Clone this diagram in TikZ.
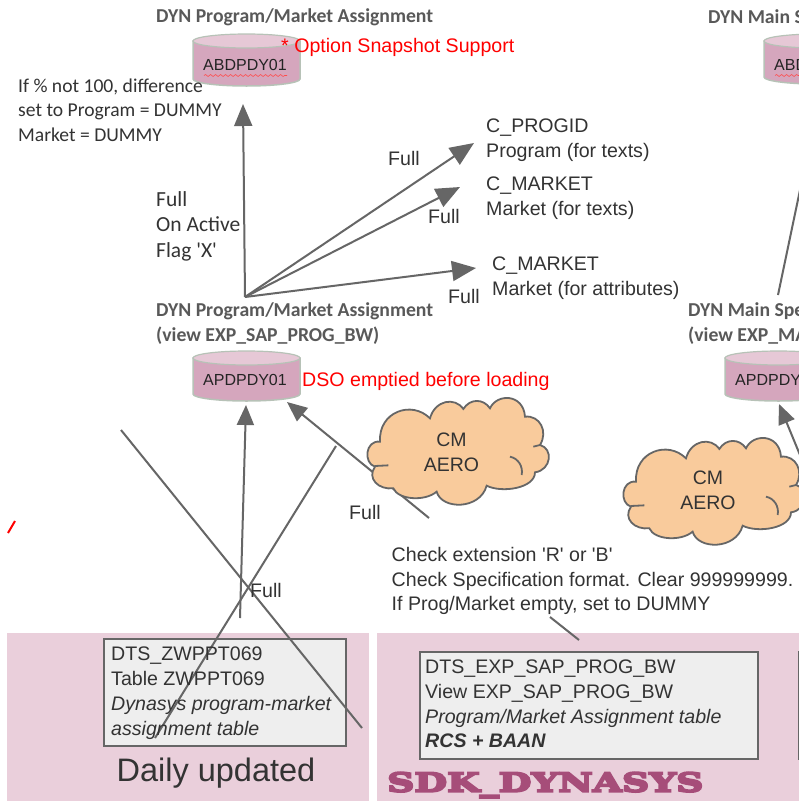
\documentclass[tikz,border=0pt]{standalone}
\usepackage{fontspec}
\usetikzlibrary{arrows.meta,decorations.pathmorphing}
\setmainfont{Liberation Sans}
\newfontfamily\calfam{Carlito}
\newfontfamily\sdkfont[FakeBold=8,FakeStretch=1.45]{DejaVu Serif Bold}
\definecolor{ink}{HTML}{333333}
\definecolor{linec}{HTML}{666666}
\definecolor{graytxt}{HTML}{595959}
\definecolor{panel}{HTML}{EACFDB}
\definecolor{cylbody}{HTML}{D5A6BD}
\definecolor{cyltop}{HTML}{E6C8D6}
\definecolor{cylline}{HTML}{B7C2B7}
\definecolor{boxfill}{HTML}{EEEEEE}
\definecolor{cloudfill}{HTML}{F9CB9C}
\definecolor{redtxt}{HTML}{FF0000}
\definecolor{sdkc}{HTML}{A64D79}
\newcommand{\drum}[3]{% left x, top y, bottom y
  \path[draw=cylline,line width=1.5pt,fill=cylbody] (#1,#2+7) -- (#1,#3-7)
     arc[start angle=180,end angle=360,x radius=53.5pt,y radius=7pt] -- (#1+107,#2+7) -- cycle;
  \path[draw=cylline,line width=1.2pt,fill=cyltop] (#1+53.5,#2+7) ellipse[x radius=53.5pt,y radius=7pt];
}
\newcommand{\cloudshape}[2]{%
 \begin{scope}[shift={(#1,#2)},x=0.3333pt,y=-0.3333pt]
  \path[draw=linec,line width=1.8pt,fill=cloudfill]
   (75,140) .. controls (70,50) and (170,15) .. (225,70)
   .. controls (240,15) and (300,5) .. (325,42)
   .. controls (345,10) and (385,10) .. (405,40)
   .. controls (425,-5) and (505,-5) .. (510,65)
   .. controls (555,60) and (580,110) .. (555,150)
   .. controls (595,160) and (590,225) .. (540,232)
   .. controls (540,280) and (440,295) .. (395,272)
   .. controls (375,345) and (260,345) .. (245,290)
   .. controls (210,320) and (130,315) .. (115,280)
   .. controls (70,285) and (35,250) .. (60,215)
   .. controls (25,205) and (30,135) .. (75,140) -- cycle;
  \draw[linec,line width=1.8pt] (465,185) .. controls (490,190) and (505,215) .. (500,240);
  \draw[linec,line width=1.8pt] (535,155) -- (555,150);
  \draw[linec,line width=1.8pt] (60,213) -- (100,211);
 \end{scope}}
\tikzset{
  x=1pt,y=-1pt,
  lbl/.style={anchor=west,inner sep=0pt,align=left,text=ink,font=\fontsize{19.6}{24.8}\selectfont},
  callbl/.style={lbl,font=\calfam\fontsize{19.6}{24.6}\selectfont},
  headlbl/.style={lbl,text=graytxt,font=\calfam\bfseries\fontsize{19.7}{25}\selectfont},
  redlbl/.style={lbl,text=redtxt},
  conn/.style={draw=linec,line width=2pt},
  arr/.style={conn,-{Triangle[length=22pt,width=18pt]}},
  arrbig/.style={conn,-{Triangle[length=24pt,width=20pt]}},
  arrthin/.style={conn,-{Triangle[length=20pt,width=17pt]}},
  drumtxt/.style={anchor=west,inner sep=0pt,text=ink!70!black,font=\fontsize{16}{18}\selectfont},
  cloudtxt/.style={inner sep=0pt,align=center,text=ink,font=\fontsize{19.5}{24.8}\selectfont},
  panelbox/.style={fill=panel,draw=none},
  srcbox/.style={draw=linec,line width=2pt,fill=boxfill},
}
\begin{document}
\begin{tikzpicture}
\useasboundingbox (0,0) rectangle (799,801);
\clip (0,0) rectangle (799,801);
\fill[white] (0,0) rectangle (799,801);
% panels
\path[panelbox] (7,633) rectangle (369,801);
\path[panelbox] (377,633) rectangle (799,801);
% cylinders
\drum{193}{34}{86}
\drum{193}{351}{401}
\drum{764}{34}{84}
\drum{725}{351}{401}
\node[drumtxt] (abd1) at (203,65) {ABDPDY01};
\node[drumtxt] (apd1) at (203,380) {APDPDY01};
\node[drumtxt] (abd2) at (774,65) {ABD};
\node[drumtxt] (apd2) at (735,380) {APDPDY};
\draw[redtxt!70!white,line width=.6pt,decorate,decoration={snake,amplitude=1pt,segment length=5pt}] (204,75.5) -- (287,75.5);
\draw[redtxt!70!white,line width=.6pt,decorate,decoration={snake,amplitude=1pt,segment length=5pt}] (775,75.5) -- (799,75.5);
% source boxes
\node[srcbox,draw,anchor=north west,minimum width=242pt,minimum height=107pt,inner sep=0pt] (dts1) at (103,638) {};
\node[srcbox,draw,anchor=north west,minimum width=338pt,minimum height=107pt,inner sep=0pt] (dts2) at (419,651) {};
\node[srcbox,draw,anchor=north west,minimum width=40pt,minimum height=107pt,inner sep=0pt] (dts3) at (798,651) {};
% hub and free ends
\coordinate (hub) at (245,297);
\coordinate (t1) at (243,104);
\coordinate (t2) at (474,143);
\coordinate (t3) at (460,187);
\coordinate (t4) at (476,268);
\coordinate (m1) at (778,295);
\coordinate (m2) at (800,190);
\coordinate (u1) at (240,618);
\coordinate (u2) at (246,405);
\coordinate (v1) at (429,518);
\coordinate (v2) at (287,402);
\coordinate (x1) at (121,430);
\coordinate (x2) at (362,728);
\coordinate (y1) at (336,446);
\coordinate (y2) at (155,738);
\coordinate (z1) at (550,617);
\coordinate (z2) at (579,640);
\coordinate (w1) at (800,455);
\coordinate (w2) at (779,404);
\coordinate (q1) at (8,533);
\coordinate (q2) at (15,521);
% connectors
\draw[arr] (hub) -- (t1);
\draw[arrbig] (hub) -- (t2);
\draw[arrbig] (hub) -- (t3);
\draw[arrbig] (hub) -- (t4);
\draw[conn] (m1) -- (m2);
\draw[arrthin] (u1) -- (u2);
\draw[arrthin] (v1) -- (v2);
\draw[conn] (x1) -- (x2);
\draw[conn] (y1) -- (y2);
\draw[conn] (z1) -- (z2);
\draw[arrthin] (w1) -- (w2);
\draw[redtxt,line width=2pt] (q1) -- (q2);
% clouds
\cloudshape{355}{395}
\cloudshape{611}{435}
\node[cloudtxt] (c1t) at (451.5,452) {CM\\AERO};
\node[cloudtxt] (c2t) at (708,490) {CM\\AERO};
% labels
\node[headlbl] (h1) at (156,17) {DYN Program/Market Assignment};
\node[headlbl] (h2) at (708,17) {DYN Main S};
\node[redlbl] (r1) at (281,47) {* Option Snapshot Support};
\node[callbl] (n1) at (18,110) {If \% not 100, difference\\set to Program = DUMMY\\Market = DUMMY};
\node[lbl,font=\calfam\fontsize{21.5}{25.5}\selectfont] (n2) at (156,226) {Full\\On Active\\Flag \textquotesingle X\textquotesingle};
\node[headlbl] (h3) at (156,324) {DYN Program/Market Assignment\\(view EXP\_SAP\_PROG\_BW)};
\node[headlbl] (h4) at (688,324) {DYN Main Spe\\(view EXP\_MA};
\node[redlbl] (r2) at (302,381) {DSO emptied before loading};
\node[lbl] (f1) at (388,158) {Full};
\node[lbl] (f2) at (428,216) {Full};
\node[lbl] (f3) at (448,296) {Full};
\node[lbl] (f4) at (349,512) {Full};
\node[lbl] (f5) at (250,590) {Full};
\node[lbl] (c1) at (486,140) {C\_PROGID\\Program (for texts)};
\node[lbl] (c2) at (486,198) {C\_MARKET\\Market (for texts)};
\node[lbl] (c3) at (492,278) {C\_MARKET\\Market (for attributes)};
\node[lbl] (chk) at (391.5,581) {Check extension \textquotesingle R\textquotesingle{} or \textquotesingle B\textquotesingle\\Check Specification format. Clear 999999999.\\If Prog/Market empty, set to DUMMY};
\node[lbl] (b1) at (111,693) {DTS\_ZWPPT069\\Table ZWPPT069\\\textit{Dynasys program-market}\\\textit{assignment table}};
\node[lbl] (b2) at (425,704) {DTS\_EXP\_SAP\_PROG\_BW\\View EXP\_SAP\_PROG\_BW\\\textit{Program/Market Assignment table}\\\textbf{\textit{RCS + BAAN}}};
\node[inner sep=0pt,text=ink,font=\fontsize{32.5}{36}\selectfont] (du) at (216,773) {Daily updated};
\node[anchor=west,inner sep=0pt,text=sdkc,font=\sdkfont\fontsize{26}{28}\selectfont] (sdk) at (387,785) {SDK\_DYNASYS};
\end{tikzpicture}
\end{document}
